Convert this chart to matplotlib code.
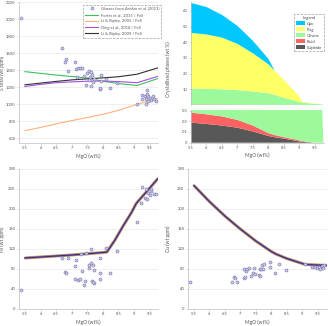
import matplotlib
matplotlib.use("Agg")
import matplotlib.pyplot as plt
from matplotlib.patches import Patch
from matplotlib.lines import Line2D

plt.rcParams['font.family'] = ['Lato', 'DejaVu Sans']

# ---- S total panel ----
s_glass_mgo = [5.37, 6.7, 6.83, 6.78, 6.89, 7.1, 7.13, 7.2, 7.26, 7.33, 7.17, 7.4, 7.45, 7.5,
               7.56, 7.63, 7.6, 7.66, 7.72, 7.56, 7.61, 7.69, 7.9, 7.9, 7.95, 7.93, 8.11, 8.22,
               8.45, 9.1, 9.25, 9.27, 9.42, 9.36, 9.39, 9.46, 9.5, 9.55, 9.61, 9.45, 9.37, 9.64,
               9.71, 9.43]
s_glass = [2020, 1665, 1530, 1495, 1398, 1500, 1420, 1430, 1430, 1430, 1325, 1330, 1228, 1370,
           1390, 1380, 1325, 1340, 1300, 1290, 1220, 1260, 1180, 1195, 1340, 1270, 1300, 1195,
           1250, 1003, 1062, 1114, 1173, 1095, 1062, 1095, 1075, 1055, 1095, 1035, 1007, 1067,
           1043, 1126]

model_mgo = [5.5, 6.0, 6.5, 7.0, 7.5, 8.0, 8.5, 9.1, 9.77]
s_fortin = [1385, 1365, 1345, 1328, 1310, 1272, 1245, 1222, 1305]
s_li2005 = [690, 728, 770, 808, 845, 882, 930, 1000, 1070]
s_ding = [1210, 1235, 1255, 1265, 1272, 1275, 1268, 1255, 1330]
s_li2009 = [1230, 1250, 1270, 1288, 1300, 1312, 1325, 1355, 1430]

# ---- crystallised phases ----
ph_mgo = [5.5, 6.0, 6.5, 7.0, 7.5, 8.0, 8.2, 8.5, 9.0, 9.1, 9.5, 9.74, 9.78]
sulphide = [0.187, 0.175, 0.16, 0.14, 0.105, 0.063, 0.052, 0.038, 0.012, 0.008, 0, 0, 0]
fluid = [0.093, 0.09, 0.085, 0.073, 0.055, 0.027, 0.02, 0.014, 0.01, 0.007, 0, 0, 0]
olivine = [10.32, 10.03, 9.76, 9.29, 8.44, 7.41, 6.43, 4.55, 1.98, 1.49, 0.7, 0.32, 0]
plag = [35.4, 34.7, 33.0, 29.5, 24.4, 18.5, 15.5, 11.4, 3.5, 0.4, 0.2, 0, 0]
cpx = [19.1, 17.5, 14.5, 11.5, 8.0, 3.5, 0, 0, 0, 0, 0, 0, 0]

# ---- Ni ----
ni_glass_mgo = [5.37, 6.69, 6.89, 6.78, 6.83, 7.1, 7.13, 7.12, 7.2, 7.26, 7.33, 7.29, 7.4, 7.45,
                7.44, 7.56, 7.56, 7.61, 7.63, 7.69, 7.66, 7.72, 7.68, 7.72, 7.9, 7.92, 7.9, 8.11,
                8.22, 8.45, 9.1, 9.25, 9.23, 9.36, 9.39, 9.42, 9.46, 9.5, 9.55, 9.55, 9.63, 9.71]
ni_glass = [39, 102, 102, 75, 72, 86, 99, 60, 59, 60, 77, 111, 48, 113,
            57, 83, 88, 92, 121, 89, 57, 52, 55, 79, 103, 72, 61, 123,
            73, 117, 175, 244, 211, 221, 239, 219, 231, 227, 235, 240, 229, 229]
ni_mgo = [5.5, 6.0, 6.5, 7.0, 7.5, 8.0, 8.13, 8.38, 8.65, 8.91, 9.07, 9.77]
ni_model = [102, 104, 106, 108, 110.5, 113, 114, 137, 166, 192, 211, 261]

# ---- Cu ----
cu_glass_mgo = [5.39, 6.74, 6.81, 6.84, 6.9, 7.11, 7.15, 7.13, 7.17, 7.2, 7.27, 7.33, 7.4, 7.44,
                7.49, 7.6, 7.65, 7.62, 7.67, 7.7, 7.76, 7.73, 7.95, 7.97, 8.13, 8.24, 8.49, 9.1,
                9.32, 9.42, 9.48, 9.53, 9.56, 9.64, 9.67, 9.69]
cu_glass = [54, 54, 65, 62, 55, 62, 65, 80, 77, 81, 83, 67, 72, 82,
            71, 69, 67, 80, 80, 89, 90, 81, 94, 85, 72, 90, 79, 90,
            84, 85, 82, 85, 81, 87, 82, 89]
cu_mgo = [5.5, 6.0, 6.5, 7.0, 7.5, 8.0, 8.15, 8.5, 9.1, 9.5, 9.8]
cu_model = [247, 215, 186, 160, 136, 115, 110, 101, 89, 88, 87]

W, H = 328, 326
fig = plt.figure(figsize=(W / 100, H / 100), dpi=100)


def rect(l, t, r, b):
    return [l / W, 1 - b / H, (r - l) / W, (b - t) / H]


def style(ax, grid=True):
    ax.spines['top'].set_visible(False)
    ax.spines['right'].set_visible(False)
    for s in ['left', 'bottom']:
        ax.spines[s].set_color('#BFBFBF')
        ax.spines[s].set_linewidth(0.5)
    ax.tick_params(labelsize=3, colors='#BFBFBF', labelcolor='#595959',
                   length=1.5, width=0.4, pad=1)
    if grid:
        ax.yaxis.grid(True, color='#E3E3E3', lw=0.4)
        ax.set_axisbelow(True)


xt = [5.5, 6, 6.5, 7, 7.5, 8, 8.5, 9, 9.5]
xtl = ['5.5', '6', '6.5', '7', '7.5', '8', '8.5', '9', '9.5']
glass_kw = dict(ls='none', marker='o', ms=2.2, mfc='#C9C9EC', mec='#7474A8', mew=0.4)
lab_kw = dict(fontsize=3.5, color='#595959')

# S total
ax1 = fig.add_axes(rect(19, 2, 158, 143))
style(ax1)
ax1.plot(model_mgo, s_fortin, color='#3CC05A', lw=0.8)
ax1.plot(model_mgo, s_li2005, color='#FFB07F', lw=0.8)
ax1.plot(model_mgo, s_ding, color='#A64DE6', lw=0.8)
ax1.plot(model_mgo, s_li2009, color='#303030', lw=0.8)
ax1.plot(s_glass_mgo, s_glass, **glass_kw)
ax1.set_xlim(5.31, 9.77)
ax1.set_ylim(545, 2205)
ax1.set_yticks(range(600, 2201, 200))
ax1.set_xticks(xt)
ax1.set_xticklabels(xtl)
ax1.set_xlabel('MgO (wt%)', labelpad=2, **lab_kw)
ax1.set_ylabel('S total (wt ppm)', **lab_kw)
ax1.yaxis.set_label_coords(-0.1, 0.5)
h1 = [Line2D([], [], **glass_kw),
      Line2D([], [], color='#3CC05A', lw=0.8),
      Line2D([], [], color='#FFB07F', lw=0.8),
      Line2D([], [], color='#A64DE6', lw=0.8),
      Line2D([], [], color='#303030', lw=0.8)]
l1 = ['Glasses from Ariskin et al. (2013)', 'Fortin et al., 2015 / FeS',
      'Li & Ripley, 2005 / FeS', 'Ding et al., 2018 / FeS', 'Li & Ripley, 2009 / FeS']
leg = ax1.legend(h1, l1, loc='upper right', bbox_to_anchor=(163 / W, 1 - 3 / H),
                 bbox_transform=fig.transFigure, fontsize=3, handlelength=3.2,
                 labelspacing=0.55, borderpad=0.4, handletextpad=0.6, fancybox=False,
                 framealpha=1, edgecolor='#A0A0A0', labelcolor='#595959')
leg.get_frame().set_linestyle('--')
leg.get_frame().set_linewidth(0.5)

# crystallised phases
cols = ['#585858', '#FF6262', '#9CFA9C', '#FFFF66', '#00C8FF']
stack = [sulphide, fluid, olivine, plag, cpx]
ax2 = fig.add_axes(rect(191, 2, 324, 104.5))
ax3 = fig.add_axes(rect(191, 110, 324, 142.7))
for ax in (ax2, ax3):
    style(ax, grid=False)
    ax.stackplot(ph_mgo, *stack, colors=cols, lw=0)
    ax.set_xlim(5.5, 9.8)
    ax.set_xticks(xt)
ax2.set_ylim(0.3, 65.7)
ax2.set_yticks(range(10, 61, 10))
ax2.set_xticklabels([])
ax2.tick_params(axis='x', length=0)
ax2.spines['bottom'].set_visible(False)
ax3.set_ylim(0, 0.305)
ax3.set_yticks([0, 0.1, 0.2, 0.3])
ax3.set_yticklabels(['0', '0.1', '0.2', '0.3'])
ax3.set_xticklabels(xtl)
ax3.set_xlabel('MgO (wt%)', labelpad=2, **lab_kw)
ax2.set_ylabel('Crystallised phases (wt %)', **lab_kw)
ax2.yaxis.set_label_coords(-0.15, 0.34)
names = ['Sulphide', 'Fluid', 'Olivine', 'Plag', 'Cpx']
h2 = [Patch(facecolor=c, edgecolor='none') for c in cols][::-1]
leg2 = ax2.legend(h2, names[::-1], title='Legend', loc='upper right',
                  bbox_to_anchor=(326 / W, 1 - 12 / H), bbox_transform=fig.transFigure,
                  fontsize=3, title_fontsize=3, handlelength=2.2, handleheight=1.2,
                  labelspacing=0.35, borderpad=0.4, handletextpad=0.5, fancybox=False,
                  framealpha=1, edgecolor='#A0A0A0', labelcolor='#404040')
leg2.get_frame().set_linestyle('--')
leg2.get_frame().set_linewidth(0.5)
leg2.get_title().set_color('#404040')


def model_line(ax, x, y):
    ax.plot(x, y, color='#B8AC4E', lw=2.2, solid_capstyle='butt')
    ax.plot(x, y, color='#9C5CD0', lw=1.4)
    ax.plot(x, y, color='#3A2E58', lw=0.7)


# Ni
ax4 = fig.add_axes(rect(19, 169, 158, 309))
style(ax4)
model_line(ax4, ni_mgo, ni_model)
ax4.plot(ni_glass_mgo, ni_glass, **glass_kw)
ax4.set_xlim(5.31, 9.77)
ax4.set_ylim(0, 280)
ax4.set_yticks(range(0, 281, 40))
ax4.set_xticks(xt)
ax4.set_xticklabels(xtl)
ax4.set_xlabel('MgO (wt%)', labelpad=2, **lab_kw)
ax4.set_ylabel('Ni (wt ppm)', **lab_kw)
ax4.yaxis.set_label_coords(-0.1, 0.5)

# Cu
ax5 = fig.add_axes(rect(188, 169, 327, 309))
style(ax5)
model_line(ax5, cu_mgo, cu_model)
ax5.plot(cu_glass_mgo, cu_glass, **glass_kw)
ax5.set_xlim(5.31, 9.8)
ax5.set_ylim(0, 280)
ax5.set_yticks(range(0, 281, 40))
ax5.set_xticks(xt)
ax5.set_xticklabels(xtl)
ax5.set_xlabel('MgO (wt%)', labelpad=2, **lab_kw)
ax5.set_ylabel('Cu (wt ppm)', **lab_kw)
ax5.yaxis.set_label_coords(-0.12, 0.5)

fig.savefig('out.png', dpi=100)
